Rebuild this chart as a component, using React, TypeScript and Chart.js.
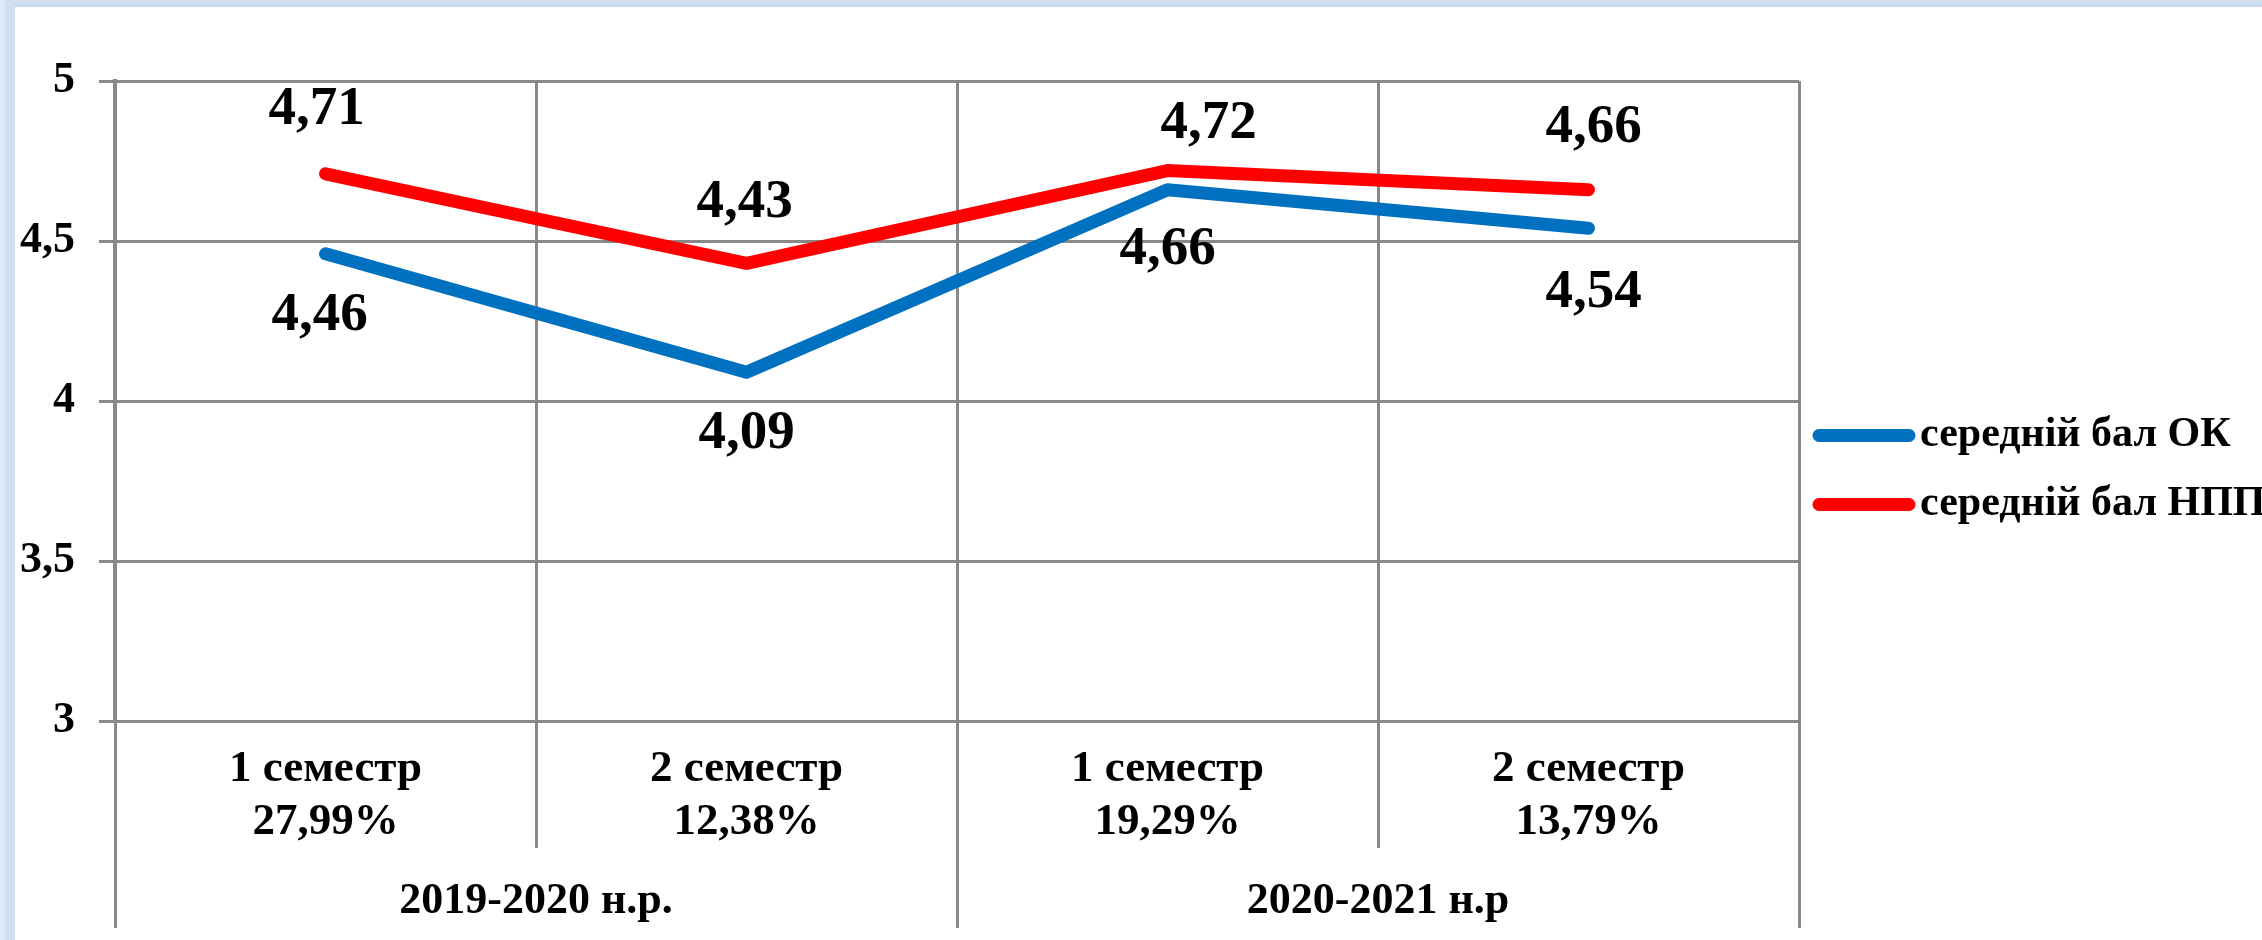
import React, { useEffect, useRef } from "react";
import { Chart, registerables } from "chart.js";

Chart.register(...registerables);

// ---- data ----
const semesters = ["1 семестр", "2 семестр", "1 семестр", "2 семестр"];
const shares = ["27,99%", "12,38%", "19,29%", "13,79%"];
const years = ["2019-2020 н.р.", "2020-2021 н.р"];
const seriesNames = ["середній бал ОК", "середній бал НПП"];
const okValues = [4.46, 4.09, 4.66, 4.54];
const nppValues = [4.71, 4.43, 4.72, 4.66];
const yMin = 3;
const yMax = 5;
const yStep = 0.5;

// ---- style ----
const FONT = '"Liberation Serif", "Times New Roman", serif';
const GRID = "#898989";
const BLUE = "#0070C0";
const RED = "#FF0000";
const fmt = (v: number) => String(v).replace(".", ",");

const valueLabels = {
  id: "valueLabels",
  afterDatasetsDraw(chart: any, _a: any, opts: any) {
    const ctx = chart.ctx;
    ctx.save();
    ctx.font = `bold ${opts.size}px ${FONT}`;
    ctx.fillStyle = "#000";
    ctx.textAlign = "center";
    ctx.textBaseline = "middle";
    chart.data.datasets.forEach((ds: any, di: number) => {
      const meta = chart.getDatasetMeta(di);
      const adj = opts.adjust[di];
      meta.data.forEach((pt: any, i: number) => {
        const [dx, dy] = adj[i];
        ctx.fillText(fmt(ds.data[i]), pt.x + dx, pt.y + dy);
      });
    });
    ctx.restore();
  },
};

const groupAxis = {
  id: "groupAxis",
  afterDraw(chart: any, _a: any, opts: any) {
    const { ctx, chartArea } = chart;
    const xs = chart.scales.x;
    const n = chart.data.labels.length;
    const per = n / opts.groups.length;
    const boundary = (i: number) =>
      i === 0
        ? chartArea.left
        : i === n
        ? chartArea.right
        : (xs.getPixelForTick(i - 1) + xs.getPixelForTick(i)) / 2;
    ctx.save();
    ctx.strokeStyle = GRID;
    ctx.lineWidth = 3;
    for (let i = 0; i <= n; i++) {
      const len = i % per === 0 ? opts.outer : opts.inner;
      const x = Math.round(boundary(i)) + 0.5;
      ctx.beginPath();
      ctx.moveTo(x, chartArea.bottom);
      ctx.lineTo(x, chartArea.bottom + len);
      ctx.stroke();
    }
    ctx.font = `bold ${opts.size}px ${FONT}`;
    ctx.fillStyle = "#000";
    ctx.textAlign = "center";
    ctx.textBaseline = "middle";
    opts.groups.forEach((g: string, gi: number) => {
      const cx = (boundary(gi * per) + boundary(gi * per + per)) / 2;
      ctx.fillText(g, cx, chartArea.bottom + opts.labelY);
    });
    ctx.restore();
  },
};

const sideLegend = {
  id: "sideLegend",
  afterDraw(chart: any, _a: any, opts: any) {
    const { ctx, chartArea } = chart;
    const items = chart.data.datasets;
    const mid = chart.height / 2;
    ctx.save();
    ctx.font = `bold ${opts.size}px ${FONT}`;
    ctx.textAlign = "left";
    ctx.textBaseline = "middle";
    items.forEach((ds: any, i: number) => {
      const y = mid + (i - (items.length - 1) / 2) * opts.spacing;
      const x0 = chartArea.right + opts.gap;
      ctx.strokeStyle = ds.borderColor;
      ctx.lineWidth = ds.borderWidth;
      ctx.lineCap = "round";
      ctx.beginPath();
      ctx.moveTo(x0 + 6, y);
      ctx.lineTo(x0 + opts.lineLen - 6, y);
      ctx.stroke();
      ctx.fillStyle = "#000";
      ctx.fillText(ds.label, x0 + opts.lineLen + 5, y);
    });
    ctx.restore();
  },
};

export default function App() {
  const ref = useRef<HTMLCanvasElement | null>(null);

  useEffect(() => {
    document.body.style.margin = "0";
    document.body.style.overflow = "hidden";
    const canvas = ref.current;
    if (!canvas) return;
    const tickFont = { family: FONT, size: 45, weight: "bold" as const, lineHeight: 1.18 };
    const chart = new Chart(canvas, {
      type: "line",
      data: {
        labels: semesters.map((s, i) => [s, shares[i]]),
        datasets: [
          {
            label: seriesNames[0],
            data: okValues,
            borderColor: BLUE,
            backgroundColor: BLUE,
            borderWidth: 13,
            pointRadius: 0,
            borderCapStyle: "round",
            borderJoinStyle: "round",
            tension: 0,
          },
          {
            label: seriesNames[1],
            data: nppValues,
            borderColor: RED,
            backgroundColor: RED,
            borderWidth: 13,
            pointRadius: 0,
            borderCapStyle: "round",
            borderJoinStyle: "round",
            tension: 0,
          },
        ],
      },
      options: {
        animation: false,
        responsive: true,
        maintainAspectRatio: false,
        layout: { padding: { top: 81, right: 463, bottom: 0, left: 0 } },
        plugins: {
          legend: { display: false },
          tooltip: { enabled: false },
          valueLabels: {
            size: 55,
            adjust: [
              [[-6, 62], [0, 62], [0, 60], [5, 65]],
              [[-9, -64], [-2, -61], [41, -47], [5, -62]],
            ],
          },
          groupAxis: { groups: years, inner: 127, outer: 207, labelY: 181, size: 44 },
          sideLegend: { size: 42, spacing: 69, gap: 14, lineLen: 102 },
        } as any,
        scales: {
          x: {
            offset: true,
            grid: { offset: true, color: GRID, lineWidth: 3, drawTicks: false },
            border: { color: GRID, width: 3 },
            ticks: {
              color: "#000",
              font: tickFont,
              padding: 22,
              maxRotation: 0,
              autoSkip: false,
            },
            afterFit: (s: any) => {
              s.height = 219;
            },
          },
          y: {
            min: yMin,
            max: yMax,
            ticks: {
              stepSize: yStep,
              color: "#000",
              font: { family: FONT, size: 44, weight: "bold" },
              padding: 24,
              callback: (v: any) => fmt(Number(v)),
            },
            grid: { color: GRID, lineWidth: 3, tickLength: 16, drawTicks: true },
            border: { color: GRID, width: 4 },
            afterFit: (s: any) => {
              s.width = 115;
            },
          },
        },
      },
      plugins: [valueLabels, groupAxis, sideLegend],
    });
    return () => chart.destroy();
  }, []);

  return (
    <div style={{ position: "relative", width: 2262, height: 940, background: "#fff", overflow: "hidden" }}>
      <div style={{ position: "absolute", left: 0, top: 0, width: 2262, height: 7, background: "linear-gradient(#d3e3f3, #c6d9ee)" }} />
      <div style={{ position: "absolute", left: 0, top: 0, width: 15, height: 940, background: "linear-gradient(90deg, #dde9f7 0 5px, #d0e0f2 5px)" }} />
      <div style={{ position: "absolute", left: 0, top: 0, width: 2262, height: 940 }}>
        <canvas ref={ref} />
      </div>
    </div>
  );
}
